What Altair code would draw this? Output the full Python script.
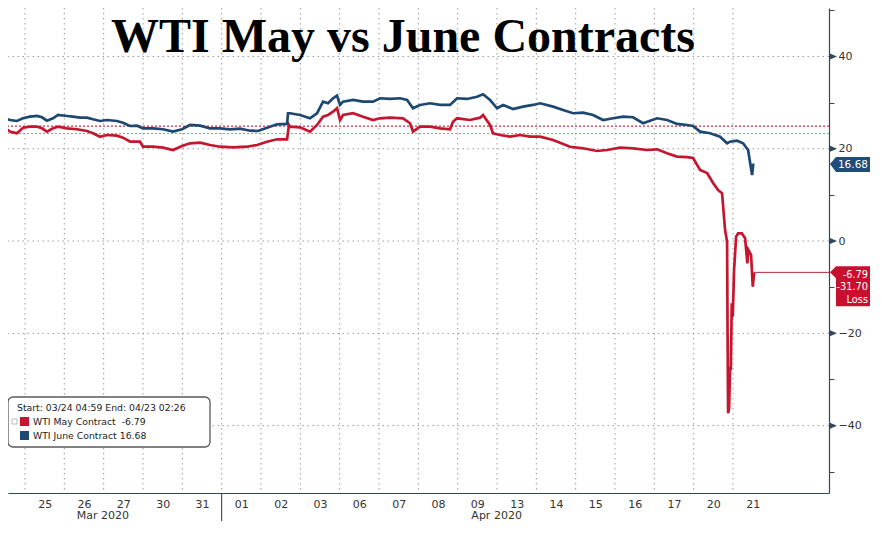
import json
import altair as alt
import pandas as pd

# ---------------- data ----------------
day_labels = ["25", "26", "27", "30", "31", "01", "02", "03", "06", "07", "08",
              "09", "13", "14", "15", "16", "17", "20", "21"]
month_labels = ["Mar 2020", "Apr 2020"]
month_pos = [1.98, 11.99]
month_break = [5]

title_text = "WTI May vs June Contracts"
legend_title = "Start: 03/24 04:59 End: 04/23 02:26"
series_names = ["WTI May Contract", "WTI June Contract"]
last_values = [-6.79, 16.68]
loss_value = -31.70

# trading-day index (0 = 25 Mar) and price
may_t = [-0.585, -0.381, -0.203, -0.051, 0.127, 0.305, 0.432, 0.559, 0.712, 0.839,
         1.068, 1.322, 1.576, 1.729, 1.907, 2.085, 2.339, 2.492, 2.670, 2.924,
         3.000, 3.254, 3.509, 3.763, 3.992, 4.195, 4.450, 4.704, 4.958, 5.289,
         5.645, 5.899, 6.153, 6.407, 6.662, 6.712, 6.738, 6.992, 7.246, 7.424,
         7.577, 7.704, 7.831, 7.933, 8.009, 8.086, 8.340, 8.594, 8.848, 9.026,
         9.280, 9.611, 9.789, 9.865, 10.043, 10.297, 10.552, 10.806, 10.882, 10.984,
         11.314, 11.569, 11.645, 11.823, 11.899, 12.077, 12.332, 12.586, 12.840, 13.094,
         13.425, 13.857, 14.188, 14.544, 14.798, 15.129, 15.459, 15.815, 16.069, 16.323,
         16.578, 16.832, 16.984, 17.162, 17.341, 17.493, 17.620, 17.722, 17.798, 17.849,
         17.862, 17.875, 17.900, 17.925, 17.943, 17.968, 17.993, 18.027, 18.078, 18.129,
         18.223, 18.307, 18.365, 18.390, 18.459, 18.502, 18.536]
may_v = [25.00, 23.70, 23.35, 24.56, 24.78, 24.78, 24.43, 23.70, 24.43, 24.78,
         24.43, 24.22, 23.85, 23.35, 22.61, 22.98, 22.83, 22.40, 21.53, 21.53,
         20.44, 20.44, 20.23, 19.73, 20.60, 21.18, 21.31, 20.81, 20.44, 20.31,
         20.44, 20.81, 21.53, 22.05, 22.05, 25.15, 24.78, 24.65, 23.70, 25.15,
         26.95, 27.32, 28.03, 28.77, 26.23, 27.32, 27.69, 26.95, 26.23, 26.60,
         26.73, 26.60, 25.52, 23.70, 24.78, 24.78, 24.43, 24.22, 25.86, 26.60,
         26.23, 26.73, 27.32, 25.15, 23.35, 22.98, 22.61, 22.98, 22.61, 22.61,
         21.90, 20.44, 20.10, 19.51, 19.73, 20.23, 20.10, 19.73, 19.88, 19.01,
         18.30, 18.20, 17.99, 15.39, 14.74, 12.57, 11.06, 10.34, 2.38, -0.15,
         -20.60, -37.29, -36.21, -27.25, -27.97, -13.51, -16.41, -6.29, 0.93, 1.67,
         1.67, 0.59, -4.83, -1.95, -3.04, -9.91, -6.79]

june_t = [-0.585, -0.381, -0.203, -0.051, 0.127, 0.305, 0.432, 0.559, 0.712, 0.839,
          1.068, 1.220, 1.398, 1.576, 1.729, 1.907, 2.085, 2.339, 2.492, 2.670,
          2.848, 3.000, 3.254, 3.509, 3.763, 3.992, 4.195, 4.450, 4.704, 4.958,
          5.212, 5.467, 5.721, 5.924, 6.153, 6.407, 6.662, 6.687, 6.738, 6.992,
          7.246, 7.424, 7.577, 7.704, 7.831, 7.933, 8.009, 8.086, 8.340, 8.594,
          8.848, 9.026, 9.280, 9.535, 9.713, 9.865, 10.043, 10.297, 10.552, 10.806,
          10.984, 11.238, 11.492, 11.645, 11.823, 12.001, 12.154, 12.408, 12.662, 12.916,
          13.094, 13.425, 13.679, 13.933, 14.188, 14.442, 14.696, 14.951, 15.205, 15.459,
          15.713, 15.891, 16.069, 16.323, 16.578, 16.832, 16.984, 17.162, 17.417, 17.671,
          17.849, 17.925, 18.103, 18.256, 18.383, 18.485, 18.511, 18.536]
june_v = [26.82, 26.23, 26.02, 26.60, 26.95, 27.10, 26.82, 26.08, 26.60, 27.32,
          27.10, 26.95, 26.73, 26.73, 26.38, 26.02, 26.23, 26.02, 25.65, 24.93,
          25.00, 24.43, 24.43, 24.22, 23.70, 24.22, 25.15, 25.00, 24.43, 24.43,
          24.22, 24.35, 23.91, 23.85, 24.56, 25.30, 25.37, 27.69, 27.69, 27.32,
          26.60, 27.69, 30.20, 29.85, 30.94, 31.50, 29.49, 30.20, 30.57, 30.20,
          30.20, 30.94, 30.79, 30.94, 30.57, 28.77, 29.49, 29.85, 29.49, 29.49,
          30.94, 30.79, 31.28, 31.80, 30.57, 28.77, 29.49, 28.62, 29.12, 29.49,
          29.85, 29.12, 28.40, 27.69, 27.82, 27.32, 26.23, 26.60, 26.95, 26.82,
          25.52, 26.08, 26.60, 26.23, 25.37, 25.15, 24.93, 23.70, 23.35, 22.61,
          21.18, 21.53, 21.75, 21.18, 19.73, 14.31, 16.48, 16.68]

ref_levels = [24.9, 23.3]
grid_y = [-40, -20, 0, 20, 40]
y_ticks = [-50, -40, -30, -20, -10, 0, 10, 20, 30, 40, 50]
major_y = [-40, -20, 0, 20, 40]

# ---------------- styles ----------------
RED = "#c4172f"
BLUE = "#1c4872"
AXIS = "#34475a"
FONT = "DejaVu Sans"
W, H = 821, 485

x_scale = alt.Scale(domain=[-0.432, 20.44], nice=False, zero=False)
y_scale = alt.Scale(domain=[-54.6, 50.5], nice=False, zero=False)
c_scale = alt.Scale(domain=series_names, range=[RED, BLUE])

X_AXIS = alt.Axis(values=[i + 0.5 for i in range(len(day_labels))],
                  labelExpr=f"{json.dumps(day_labels)}[floor(datum.value)]",
                  ticks=False, grid=False, labelPadding=5, labelFlush=False,
                  labelOverlap=False, labelFontSize=11, labelFont=FONT, labelColor="#333",
                  domainColor=AXIS, domainWidth=1.2, title=None)
Y_AXIS = alt.Axis(orient="right", values=y_ticks, grid=False, tickSize=5, tickColor=AXIS,
                  labelExpr="datum.value % 20 == 0 ? datum.label : ''",
                  labelPadding=4, labelFontSize=11, labelFont=FONT, labelColor="#333",
                  domainColor=AXIS, domainWidth=1.2, labelFlush=False, title=None)


def xq(field):
    return alt.X(field, scale=x_scale, axis=X_AXIS, title=None)


def yq(field):
    return alt.Y(field, scale=y_scale, axis=Y_AXIS, title=None)


df = pd.concat([
    pd.DataFrame({"t": may_t, "price": may_v, "series": series_names[0]}),
    pd.DataFrame({"t": june_t, "price": june_v, "series": series_names[1]}),
], ignore_index=True)

vgrid = alt.Chart(pd.DataFrame({"t": list(range(len(day_labels)))})).mark_rule(
    color="#9a9a9a", strokeDash=[1.5, 3.5], strokeWidth=1
).encode(x=xq("t:Q"))

hgrid = alt.Chart(pd.DataFrame({"v": grid_y})).mark_rule(
    color="#9a9a9a", strokeDash=[1.5, 3.5], strokeWidth=1
).encode(y=yq("v:Q"))

ref1 = alt.Chart(pd.DataFrame({"v": ref_levels[:1]})).mark_rule(
    strokeDash=[2, 2], strokeWidth=1.3, color="#d0303c"
).encode(y=yq("v:Q"))
ref2 = alt.Chart(pd.DataFrame({"v": ref_levels[1:]})).mark_rule(
    strokeDash=[2, 2], strokeWidth=1.2, color="#dc8088"
).encode(y=yq("v:Q"))

title = alt.Chart(pd.DataFrame({"s": [title_text]})).mark_text(
    font="Liberation Serif", fontWeight="bold", fontSize=48, color="#000",
    align="center", baseline="alphabetic"
).encode(x=alt.value(395), y=alt.value(44), text="s:N")

lines = alt.Chart(df).mark_line(strokeWidth=2.7, clip=True).encode(
    x=xq("t:Q"), y=yq("price:Q"),
    color=alt.Color("series:N", scale=c_scale, legend=None),
)

months = alt.Chart(pd.DataFrame({"t": month_pos, "m": month_labels})).mark_text(
    font=FONT, fontSize=11, color="#333", baseline="middle", align="center"
).encode(x=xq("t:Q"), y=alt.value(508), text="m:N")

sep = alt.Chart(pd.DataFrame({"t": month_break})).mark_rule(color="#333", strokeWidth=1).encode(
    x=xq("t:Q"), y=alt.value(H), y2=alt.value(H + 28)
)

arrows = alt.Chart(pd.DataFrame({"v": major_y})).mark_point(
    shape="M0,-3 L7,0 L0,3 Z", size=4, filled=True, opacity=1, color=AXIS, strokeWidth=0
).encode(x=alt.value(W + 1), y=yq("v:Q"))

end_line = alt.Chart(pd.DataFrame({"t": [may_t[-1]], "v": [last_values[0]]})).mark_rule(
    color="#b5283a", strokeWidth=1
).encode(x=xq("t:Q"), x2=alt.value(W), y=yq("v:Q"))

blue_tag = alt.Chart(pd.DataFrame({"v": [last_values[1]]})).mark_point(
    shape="M0,0 L6,-7 L40,-7 L40,8 L6,8 Z", size=4, filled=True, opacity=1,
    color="#1f4c78", strokeWidth=0
).encode(x=alt.value(W + 1), y=yq("v:Q"))
blue_txt = alt.Chart(pd.DataFrame({"v": [last_values[1]], "s": [f"{last_values[1]:.2f}"]})).mark_text(
    font=FONT, fontSize=10.5, color="white", align="right", baseline="middle", dy=1
).encode(x=alt.value(W + 39), y=yq("v:Q"), text="s:N")

red_tag = alt.Chart(pd.DataFrame({"v": [last_values[0]]})).mark_point(
    shape="M0,0 L6,-6 L40,-6 L40,34 L6,34 L6,6 Z", size=4, filled=True, opacity=1,
    color="#c8102e", strokeWidth=0
).encode(x=alt.value(W + 1), y=yq("v:Q"))
red_lines = [f"{last_values[0]:.2f}", f"{loss_value:.2f}", "Loss"]
red_txt = [
    alt.Chart(pd.DataFrame({"v": [last_values[0]], "s": [s]})).mark_text(
        font=FONT, fontSize=9.8, color="white", align="right", baseline="middle", dy=dy
    ).encode(x=alt.value(W + 39), y=yq("v:Q"), text="s:N")
    for s, dy in zip(red_lines, [3, 15, 28])
]

# legend box (drawn with marks)
LX, LY, LW, LH = 0, 389, 202, 50
leg_box = alt.Chart(pd.DataFrame({"a": [0]})).mark_rect(
    fill="white", stroke="#5a5a5a", strokeWidth=1.3, cornerRadius=5
).encode(x=alt.value(LX), x2=alt.value(LX + LW), y=alt.value(LY), y2=alt.value(LY + LH))
leg_title = alt.Chart(pd.DataFrame({"s": [legend_title]})).mark_text(
    font=FONT, fontSize=9.3, color="#222", align="left", baseline="middle"
).encode(x=alt.value(LX + 9), y=alt.value(LY + 11), text="s:N")
leg_icon = alt.Chart(pd.DataFrame({"a": [0]})).mark_square(
    size=25, filled=False, color="#888", strokeWidth=0.8
).encode(x=alt.value(LX + 6.5), y=alt.value(LY + 24.5))
leg_rows = []
for i, (name, val) in enumerate(zip(series_names, last_values)):
    yy = LY + 24.5 + 14 * i
    pad = "\u00a0\u00a0" if val < 0 else "\u00a0"
    rowdf = pd.DataFrame({"series": [name], "s": [f"{name}{pad}{val:.2f}"]})
    leg_rows.append(alt.Chart(rowdf).mark_square(size=81, opacity=1).encode(
        x=alt.value(LX + 16.5), y=alt.value(yy),
        color=alt.Color("series:N", scale=c_scale, legend=None)))
    leg_rows.append(alt.Chart(rowdf).mark_text(
        font=FONT, fontSize=9.3, color="#222", align="left", baseline="middle"
    ).encode(x=alt.value(LX + 25), y=alt.value(yy), text="s:N"))

chart = alt.layer(
    vgrid, hgrid, ref1, ref2, lines, title, months, sep, arrows, end_line,
    blue_tag, blue_txt, red_tag, *red_txt, leg_box, leg_title, leg_icon, *leg_rows
).properties(
    width=W, height=H, autosize=alt.AutoSizeParams(type="none"),
    padding={"left": 0, "top": 0, "right": 44, "bottom": 30},
    background="white",
).configure_view(stroke=None)

chart.save("out.html", embed_options={"renderer": "svg", "actions": False})
